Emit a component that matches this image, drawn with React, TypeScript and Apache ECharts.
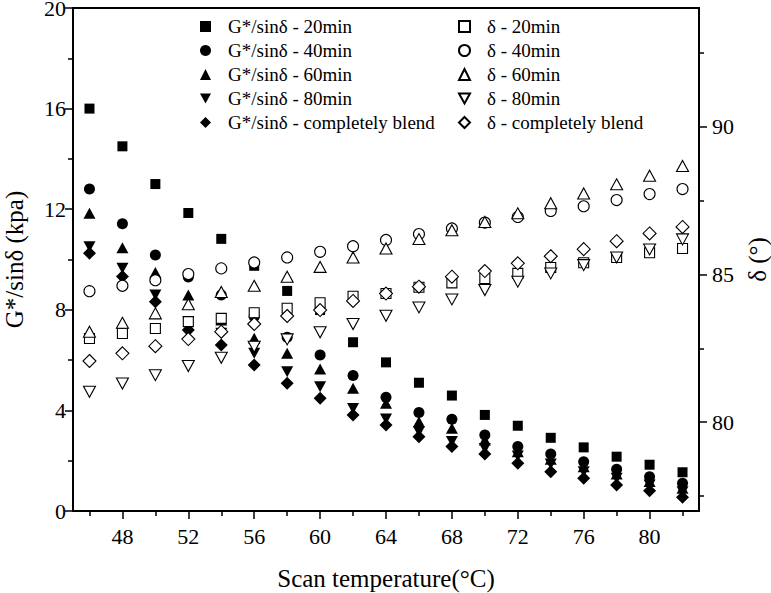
import React, { useEffect, useRef } from "react";
import * as echarts from "echarts";

const temps = [46, 48, 50, 52, 54, 56, 58, 60, 62, 64, 66, 68, 70, 72, 74, 76, 78, 80, 82];

const g20 = [16.0, 14.5, 13.0, 11.85, 10.82, 9.75, 8.75, 7.99, 6.71, 5.91, 5.1, 4.59, 3.82, 3.39, 2.91, 2.53, 2.16, 1.84, 1.54];
const g40 = [12.8, 11.42, 10.18, 9.3, 8.59, 7.73, 6.91, 6.2, 5.39, 4.52, 3.92, 3.65, 3.02, 2.56, 2.27, 1.96, 1.66, 1.36, 1.1];
const g60 = [11.84, 10.47, 9.48, 8.59, 7.59, 6.87, 6.27, 5.65, 4.88, 4.28, 3.55, 3.29, 2.82, 2.36, 2.06, 1.76, 1.47, 1.17, 0.9];
const g80 = [10.51, 9.65, 8.59, 7.53, 7.07, 6.27, 5.54, 4.94, 4.08, 3.66, 3.15, 2.76, 2.49, 2.19, 1.87, 1.56, 1.3, 1.03, 0.77];
const gBlend = [10.25, 9.32, 8.32, 7.2, 6.6, 5.81, 5.08, 4.48, 3.82, 3.42, 2.95, 2.56, 2.27, 1.9, 1.56, 1.3, 1.03, 0.81, 0.55];

const d20 = [82.83, 83.0, 83.17, 83.4, 83.51, 83.7, 83.85, 84.04, 84.26, 84.35, 84.56, 84.71, 84.86, 85.03, 85.23, 85.39, 85.57, 85.73, 85.87];
const d40 = [84.43, 84.61, 84.8, 85.01, 85.2, 85.4, 85.57, 85.76, 85.95, 86.16, 86.36, 86.55, 86.75, 86.94, 87.14, 87.3, 87.51, 87.71, 87.88];
const d60 = [83.06, 83.36, 83.68, 83.99, 84.4, 84.61, 84.92, 85.25, 85.57, 85.87, 86.19, 86.49, 86.77, 87.06, 87.4, 87.73, 88.04, 88.33, 88.66];
const d80 = [81.03, 81.31, 81.59, 81.9, 82.18, 82.55, 82.8, 83.04, 83.32, 83.6, 83.88, 84.15, 84.47, 84.75, 85.03, 85.31, 85.57, 85.84, 86.18];
const dBlend = [82.07, 82.33, 82.57, 82.81, 83.06, 83.32, 83.59, 83.79, 84.1, 84.35, 84.58, 84.92, 85.11, 85.37, 85.61, 85.85, 86.12, 86.38, 86.6];

const xMajor = [48, 52, 56, 60, 64, 68, 72, 76, 80];
const xMinor = [46, 50, 54, 58, 62, 66, 70, 74, 78, 82];
const rMajor = [80, 85, 90];
const rMinor = [77.5, 82.5, 87.5, 92.5];

const gNames = ["G*/sinδ - 20min", "G*/sinδ - 40min", "G*/sinδ - 60min", "G*/sinδ - 80min", "G*/sinδ - completely blend"];
const dNames = ["δ - 20min", "δ - 40min", "δ - 60min", "δ - 80min", "δ - completely blend"];

const FONT = "'Liberation Serif', 'Times New Roman', serif";
const DOWN = "path://M0,0L20,0L10,18Z";

export default function App() {
  const ref = useRef<HTMLDivElement>(null);
  useEffect(() => {
    document.body.style.margin = "0";
    const chart = echarts.init(ref.current!, null, { renderer: "svg" });
    const pts = (vals: number[]) => temps.map((t, i) => [t, vals[i]]);
    const gVals = [g20, g40, g60, g80, gBlend];
    const dVals = [d20, d40, d60, d80, dBlend];
    const symbols: any[] = ["rect", "circle", "triangle", DOWN, "diamond"];
    const sizes: any[] = [10, 11, [12, 11], [12, 11], [13, 13]];
    const series: any[] = [];
    gVals.forEach((v, i) => {
      series.push({
        type: "scatter",
        name: gNames[i],
        xAxisIndex: 0,
        yAxisIndex: 0,
        symbol: symbols[i],
        symbolSize: sizes[i],
        itemStyle: { color: "#000", opacity: 1 },
        data: pts(v),
      });
    });
    dVals.forEach((v, i) => {
      series.push({
        type: "scatter",
        name: dNames[i],
        xAxisIndex: 0,
        yAxisIndex: 1,
        symbol: symbols[i],
        symbolSize: sizes[i],
        itemStyle: { color: "#fff", borderColor: "#000", borderWidth: 1.1, opacity: 1 },
        data: pts(v),
      });
    });
    const legendCommon = {
      orient: "vertical",
      itemWidth: 11,
      itemHeight: 11,
      itemGap: 5,
      selectedMode: false,
      textStyle: { fontFamily: FONT, fontSize: 19, color: "#000", lineHeight: 19, padding: [0, 0, 0, 12] },
    };
    chart.setOption({
      animation: false,
      backgroundColor: "#fff",
      textStyle: { fontFamily: FONT, color: "#000" },
      grid: {
        left: 73, right: 72, top: 8, bottom: 82,
        outerBoundsMode: "none",
        containLabel: false,
        show: true, borderColor: "#000", borderWidth: 2, backgroundColor: "transparent",
      },
      legend: [
        { ...legendCommon, left: 195, top: 12, data: gNames },
        { ...legendCommon, left: 453, top: 12, data: dNames },
      ],
      xAxis: [
        {
          type: "value",
          min: 45,
          max: 83,
          name: "Scan temperature(°C)",
          nameLocation: "middle",
          nameGap: 55,
          nameTextStyle: { fontFamily: FONT, fontSize: 25, color: "#000" },
          axisLine: { show: true, lineStyle: { color: "#000", width: 2 } },
          axisTick: { show: true, length: 8, lineStyle: { color: "#000", width: 1.5 }, customValues: xMajor },
          axisLabel: { fontFamily: FONT, fontSize: 22, color: "#000", margin: 14, customValues: xMajor },
          splitLine: { show: false },
        },
        {
          type: "value",
          min: 45,
          max: 83,
          position: "bottom",
          axisLine: { show: false },
          axisTick: { show: true, length: 5, lineStyle: { color: "#000", width: 1.5 }, customValues: xMinor },
          axisLabel: { show: false },
          splitLine: { show: false },
        },
      ],
      yAxis: [
        {
          type: "value",
          min: 0,
          max: 20,
          interval: 4,
          position: "left",
          name: "G*/sinδ (kpa)",
          nameLocation: "middle",
          nameGap: 46,
          nameRotate: 90,
          nameTextStyle: { fontFamily: FONT, fontSize: 25, color: "#000" },
          axisLine: { show: true, lineStyle: { color: "#000", width: 2 } },
          axisTick: { show: true, length: 8, lineStyle: { color: "#000", width: 1.5 } },
          minorTick: { show: true, splitNumber: 2, length: 5, lineStyle: { color: "#000", width: 1.5 } },
          axisLabel: { fontFamily: FONT, fontSize: 22, lineHeight: 15, color: "#000", margin: 7 },
          splitLine: { show: false },
          minorSplitLine: { show: false },
        },
        {
          type: "value",
          min: 77,
          max: 94,
          position: "right",
          name: "δ (°)",
          nameLocation: "middle",
          nameGap: 43,
          nameRotate: 90,
          nameTextStyle: { fontFamily: FONT, fontSize: 25, color: "#000" },
          axisLine: { show: true, lineStyle: { color: "#000", width: 2 } },
          axisTick: { show: true, length: 8, lineStyle: { color: "#000", width: 1.5 }, customValues: rMajor },
          axisLabel: { fontFamily: FONT, fontSize: 22, color: "#000", margin: 13, customValues: rMajor },
          splitLine: { show: false },
        },
        {
          type: "value",
          min: 77,
          max: 94,
          position: "right",
          axisLine: { show: false },
          axisTick: { show: true, length: 5, lineStyle: { color: "#000", width: 1.5 }, customValues: rMinor },
          axisLabel: { show: false },
          splitLine: { show: false },
        },
      ],
      series,
    });
    return () => chart.dispose();
  }, []);
  return <div ref={ref} style={{ width: 771, height: 593 }} />;
}
